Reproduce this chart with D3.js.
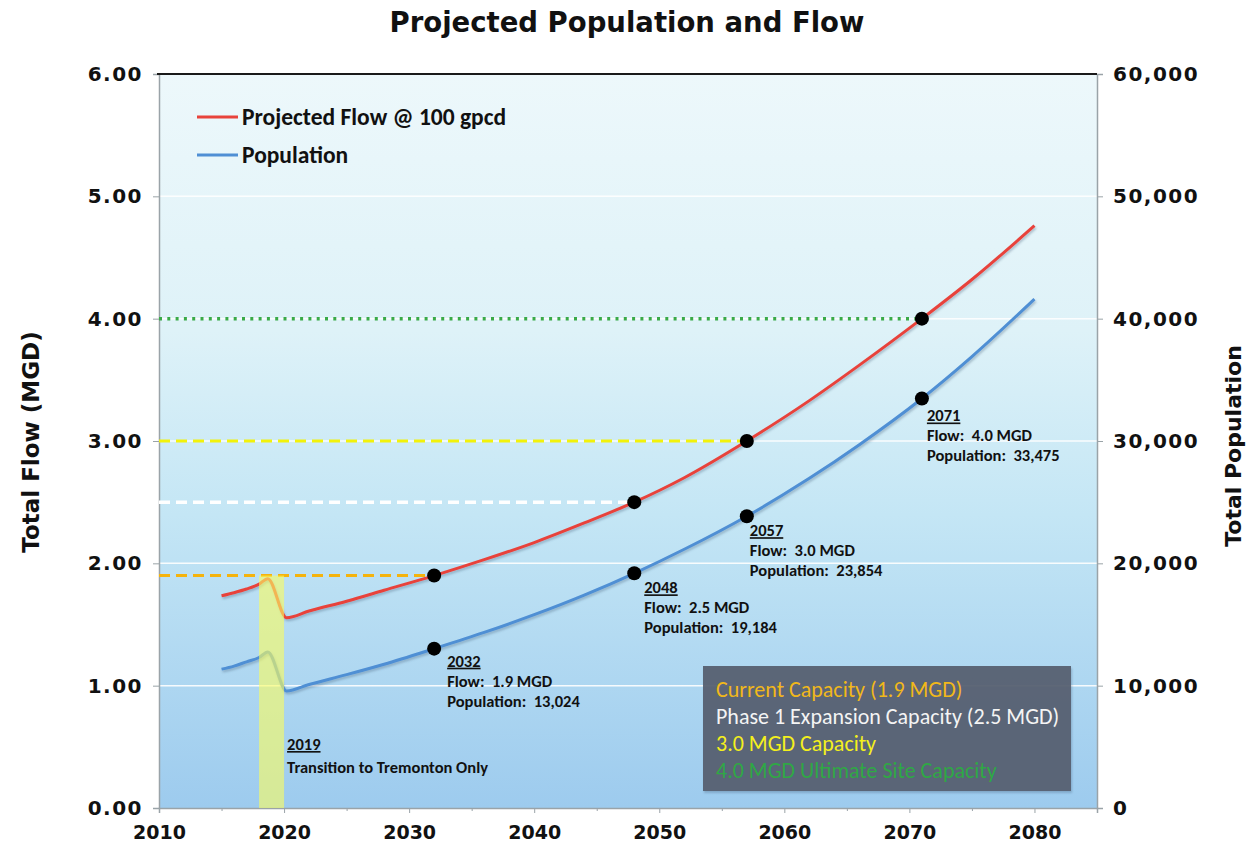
<!DOCTYPE html>
<html>
<head>
<meta charset="utf-8">
<script src="https://cdn.jsdelivr.net/npm/d3@7"></script>
<style>
  html, body { margin: 0; padding: 0; background: #ffffff; }
  svg { display: block; }
  .pre { white-space: pre; }
</style>
</head>
<body>
<svg id="chart" width="1247" height="845"></svg>
<script>
// ---- data -------------------------------------------------------------
const years      = [2015, 2016, 2017, 2018, 2018.7, 2020.2, 2022, 2025, 2028, 2032, 2036, 2040, 2044, 2048, 2052, 2057, 2062, 2066, 2071, 2075, 2080];
const flowMGD    = [1.735, 1.76, 1.79, 1.83, 1.875, 1.555, 1.61, 1.69, 1.78, 1.90, 2.03, 2.17, 2.33, 2.50, 2.70, 3.00, 3.33, 3.62, 4.00, 4.32, 4.76];
const population = [11350, 11600, 11950, 12300, 12760, 9570, 10100, 10900, 11750, 13024, 14350, 15800, 17400, 19184, 21150, 23854, 26950, 29700, 33475, 36900, 41600];

// milestone years with the values stated in their labels
const milestoneYears = [2032, 2048, 2057, 2071];
const milestoneFlow  = [1.9, 2.5, 3.0, 4.0];
const milestonePop   = [13024, 19184, 23854, 33475];

// capacity levels (MGD), each drawn up to the year it is reached
const capacityNames  = ["Current Capacity (1.9 MGD)", "Phase 1 Expansion Capacity (2.5 MGD)", "3.0 MGD Capacity", "4.0 MGD Ultimate Site Capacity"];
const capacityLevels = [1.9, 2.5, 3.0, 4.0];
const capacityUntil  = [2032, 2048, 2057, 2071];

// transition period
const transitionStart = 2018;
const transitionEnd   = 2020;
const transitionTop   = 1.9;

const xTicks     = [2010, 2020, 2030, 2040, 2050, 2060, 2070, 2080];
const xMinor     = [2015, 2025, 2035, 2045, 2055, 2065, 2075, 2085];
const flowTicks  = [0, 1, 2, 3, 4, 5, 6];
const popTicks   = [0, 10000, 20000, 30000, 40000, 50000, 60000];

// ---- layout -----------------------------------------------------------
const svg = d3.select("#chart");
const L = 159, R = 1097, T = 74, B = 808;

const x  = d3.scaleLinear().domain([2010, 2085]).range([L, R]);
const yF = d3.scaleLinear().domain([0, 6]).range([B, T]);
const yP = d3.scaleLinear().domain([0, 60000]).range([B, T]);

const calibri = "Carlito, Lato, 'Open Sans', sans-serif";
const verdana = "'DejaVu Sans', Verdana, sans-serif";

const defs = svg.append("defs");
const grad = defs.append("linearGradient").attr("id", "bg").attr("x1", 0).attr("y1", 0).attr("x2", 0).attr("y2", 1);
[[0, "#edf8fb"], [0.35, "#def2f8"], [0.6, "#c4e6f5"], [1, "#9dcbee"]].forEach(([o, c]) =>
  grad.append("stop").attr("offset", o).attr("stop-color", c));

const shadow = defs.append("filter").attr("id", "shadow").attr("x", "-5%").attr("y", "-5%").attr("width", "110%").attr("height", "120%");
shadow.append("feDropShadow").attr("dx", 1).attr("dy", 2).attr("stdDeviation", 1.2)
  .attr("flood-color", "#40607a").attr("flood-opacity", 0.35);

// plot background
svg.append("rect").attr("x", L).attr("y", T).attr("width", R - L).attr("height", B - T).attr("fill", "url(#bg)");

// gridlines
svg.append("g").selectAll("line").data(flowTicks.filter(d => d > 0 && d < 6)).join("line")
  .attr("x1", L).attr("x2", R).attr("y1", d => yF(d)).attr("y2", d => yF(d))
  .attr("stroke", "#ffffff").attr("stroke-width", 1.5).attr("opacity", 0.9);

// axes
const axisL = svg.append("g").attr("transform", `translate(${L},0)`)
  .call(d3.axisLeft(yF).tickValues(flowTicks).tickFormat(d3.format(".2f")).tickSize(6).tickPadding(10));
const axisR = svg.append("g").attr("transform", `translate(${R},0)`)
  .call(d3.axisRight(yP).tickValues(popTicks).tickFormat(d3.format(",")).tickSize(6).tickPadding(10));
const axisB = svg.append("g").attr("transform", `translate(0,${B})`)
  .call(d3.axisBottom(x).tickValues(xTicks).tickFormat(d3.format("d")).tickSize(5).tickPadding(13));
svg.append("g").attr("transform", `translate(0,${B})`)
  .call(d3.axisBottom(x).tickValues(xMinor).tickFormat("").tickSize(3))
  .call(g => g.select(".domain").remove());

[axisL, axisR, axisB].forEach(g => {
  g.select(".domain").attr("stroke", "#9aa3a8").attr("stroke-width", 1.5);
});
svg.selectAll(".tick line").attr("stroke", "#9aa3a8");
[axisL, axisR].forEach(g => g.selectAll("text")
  .attr("font-family", verdana).attr("font-weight", "bold").attr("font-size", 20)
  .attr("letter-spacing", 1.5).attr("fill", "#111"));
axisB.selectAll("text").attr("font-family", verdana).attr("font-weight", "bold").attr("font-size", 19).attr("fill", "#111");

// top border
svg.append("line").attr("x1", L - 2).attr("x2", R).attr("y1", T).attr("y2", T).attr("stroke", "#1a1a1a").attr("stroke-width", 2);

// capacity lines
const capStyle = [
  { color: "#f5b30c", dash: "11,6", width: 3 },
  { color: "#ffffff", dash: "11,6", width: 3.5 },
  { color: "#f2f20a", dash: "11,6", width: 3 },
  { color: "#3aaa48", dash: "3,5.3", width: 3.5 }
];
svg.append("g").selectAll("line").data(capacityLevels).join("line")
  .attr("x1", L).attr("x2", (d, i) => x(capacityUntil[i]))
  .attr("y1", d => yF(d)).attr("y2", d => yF(d))
  .attr("stroke", (d, i) => capStyle[i].color)
  .attr("stroke-width", (d, i) => capStyle[i].width)
  .attr("stroke-dasharray", (d, i) => capStyle[i].dash);

// series
const rows = years.map((yr, i) => ({ yr, flow: flowMGD[i], pop: population[i] }));
const flowLine = d3.line().x(d => x(d.yr)).y(d => yF(d.flow)).curve(d3.curveMonotoneX);
const popLine  = d3.line().x(d => x(d.yr)).y(d => yP(d.pop)).curve(d3.curveMonotoneX);

svg.append("path").datum(rows).attr("d", popLine).attr("fill", "none")
  .attr("stroke", "#4f8fd4").attr("stroke-width", 3).attr("filter", "url(#shadow)");
svg.append("path").datum(rows).attr("d", flowLine).attr("fill", "none")
  .attr("stroke", "#e8433b").attr("stroke-width", 3).attr("filter", "url(#shadow)");

// transition band
svg.append("rect")
  .attr("x", x(transitionStart)).attr("width", x(transitionEnd) - x(transitionStart))
  .attr("y", yF(transitionTop)).attr("height", yF(0) - yF(transitionTop))
  .attr("fill", "#f8fb62").attr("opacity", 0.62);

// milestone markers
const ms = milestoneYears.map((yr, i) => ({ yr, flow: milestoneFlow[i], pop: milestonePop[i] }));
svg.append("g").selectAll("circle").data(ms).join("circle")
  .attr("cx", d => x(d.yr)).attr("cy", d => yF(d.flow)).attr("r", 7).attr("fill", "#000");
svg.append("g").selectAll("circle").data(ms).join("circle")
  .attr("cx", d => x(d.yr)).attr("cy", d => yP(d.pop)).attr("r", 7).attr("fill", "#000");

// milestone labels, placed below-right of the population marker
const labelShift = [[13, 18], [10, 20], [3, 20], [5, 23]];
const fmtPop = d3.format(",");
ms.forEach((d, i) => {
  const gx = x(d.yr) + labelShift[i][0];
  const gy = yP(d.pop) + labelShift[i][1];
  const t = svg.append("text").attr("font-family", calibri).attr("font-weight", "bold")
    .attr("font-size", 16.5).attr("fill", "#111").attr("class", "pre");
  t.append("tspan").attr("x", gx).attr("y", gy).attr("text-decoration", "underline").text(d.yr);
  t.append("tspan").attr("x", gx).attr("y", gy + 20).text(`Flow:  ${d.flow.toFixed(1)} MGD`);
  t.append("tspan").attr("x", gx).attr("y", gy + 40).text(`Population:  ${fmtPop(d.pop)}`);
});

// transition label
const tt = svg.append("text").attr("font-family", calibri).attr("font-weight", "bold")
  .attr("font-size", 16.5).attr("fill", "#111");
tt.append("tspan").attr("x", x(transitionEnd) + 3).attr("y", 750).attr("text-decoration", "underline").text("2019");
tt.append("tspan").attr("x", x(transitionEnd) + 3).attr("y", 773).text("Transition to Tremonton Only");

// capacity key box
const boxX = 703, boxY = 666, boxW = 368, boxH = 125;
svg.append("rect").attr("x", boxX).attr("y", boxY).attr("width", boxW).attr("height", boxH)
  .attr("fill", "#565f70").attr("opacity", 0.94).attr("filter", "url(#shadow)");
const keyColors = ["#f1b81a", "#f4f4f4", "#f4f01c", "#2fa845"];
svg.append("g").selectAll("text").data(capacityNames).join("text")
  .attr("x", boxX + 13).attr("y", (d, i) => boxY + 31 + i * 27)
  .attr("font-family", calibri).attr("font-size", 22).attr("fill", (d, i) => keyColors[i])
  .text(d => d);

// legend
const legend = [["Projected Flow @ 100 gpcd", "#e8433b"], ["Population", "#4f8fd4"]];
legend.forEach(([name, c], i) => {
  const ly = 117 + i * 38;
  svg.append("line").attr("x1", 197).attr("x2", 238).attr("y1", ly).attr("y2", ly)
    .attr("stroke", c).attr("stroke-width", 3);
  svg.append("text").attr("x", 242).attr("y", ly + 8).attr("font-family", calibri)
    .attr("font-weight", "bold").attr("font-size", 23.5).attr("fill", "#111").text(name);
});

// titles
svg.append("text").attr("x", 627).attr("y", 32).attr("text-anchor", "middle")
  .attr("font-family", verdana).attr("font-weight", "bold").attr("font-size", 27.5).attr("fill", "#111")
  .text("Projected Population and Flow");
svg.append("text").attr("transform", "translate(39,442) rotate(-90)").attr("text-anchor", "middle")
  .attr("font-family", verdana).attr("font-weight", "bold").attr("font-size", 23).attr("fill", "#111")
  .text("Total Flow (MGD)");
svg.append("text").attr("transform", "translate(1241,446) rotate(-90)").attr("text-anchor", "middle")
  .attr("font-family", verdana).attr("font-weight", "bold").attr("font-size", 22).attr("fill", "#111")
  .text("Total Population");
</script>
</body>
</html>
